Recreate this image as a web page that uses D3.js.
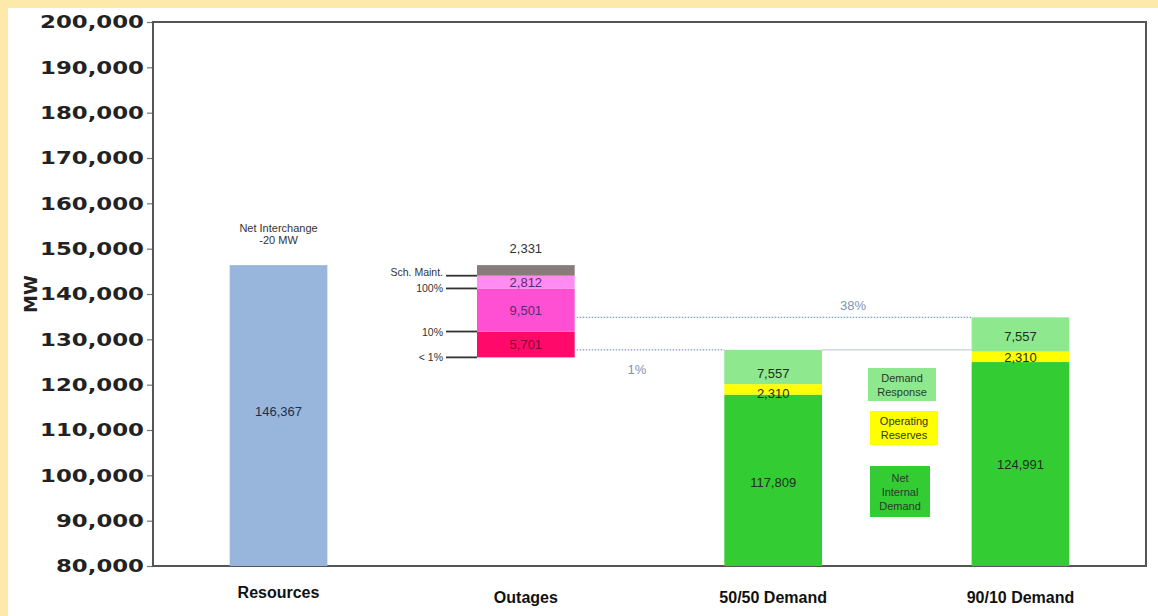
<!DOCTYPE html>
<html><head><meta charset="utf-8">
<script src="https://cdn.jsdelivr.net/npm/d3@7"></script>
<style>
html,body{margin:0;padding:0;background:#fff;}
svg{display:block;}
</style></head>
<body>
<script>
// ---- data ----
const categories = ["Resources", "Outages", "50/50 Demand", "90/10 Demand"];
const yTicks = [80000, 90000, 100000, 110000, 120000, 130000, 140000, 150000, 160000, 170000, 180000, 190000, 200000];
const resources = 146367;
const netInterchange = ["Net Interchange", "-20 MW"];
// outage segments from bottom to top (stacked downward from resources)
const outageValues = [5701, 9501, 2812, 2331];
const outageLabels = ["< 1%", "10%", "100%", "Sch. Maint."];
const demandSeries = ["Net Internal Demand", "Operating Reserves", "Demand Response"];
const demand5050 = [117809, 2310, 7557];
const demand9010 = [124991, 2310, 7557];
const pctLabels = ["38%", "1%"];

(function(){
const W = 1158, H = 616;
const svg = d3.select("body").append("svg").attr("width", W).attr("height", H);

// background frame
svg.append("rect").attr("x",0).attr("y",0).attr("width",W).attr("height",H).attr("fill","#fde9a9");
svg.append("rect").attr("x",8).attr("y",8).attr("width",W-8).attr("height",H-8).attr("fill","#ffffff");

const mL = 153, mR = 1146, mT = 22, mB = 566;
const y = d3.scaleLinear().domain([80000, 200000]).range([mB, mT]);
const x = d3.scaleBand().domain(categories).range([mL, mR]).paddingInner(0.605).paddingOuter(0.31);
const bw = x.bandwidth();
const yMin = y.domain()[0];

// y axis
const yAxis = d3.axisLeft(y).tickValues(yTicks).tickFormat(d3.format(",")).tickSize(6).tickSizeOuter(0);
const ga = svg.append("g").attr("transform", `translate(${mL},0)`).call(yAxis);
ga.select(".domain").remove();
ga.selectAll(".tick line").attr("stroke","#777").attr("stroke-width",1.2);
ga.selectAll(".tick text")
  .attr("font-family","DejaVu Sans").attr("font-weight","bold").attr("font-size",18)
  .attr("fill","#222").attr("x",-9)
  .attr("textLength", d => d >= 100000 ? 104 : 88).attr("lengthAdjust","spacingAndGlyphs");

// plot frame
svg.append("rect").attr("x",mL).attr("y",mT).attr("width",mR-mL).attr("height",mB-mT)
  .attr("fill","none").attr("stroke","#555").attr("stroke-width",2);

// MW label
svg.append("text").attr("transform","translate(37,294) rotate(-90)")
  .attr("text-anchor","middle").attr("font-family","DejaVu Sans").attr("font-weight","bold")
  .attr("font-size",18).attr("fill","#222").text("MW");

// category labels
svg.selectAll(".cat").data(categories).enter().append("text")
  .attr("x", d => x(d) + bw/2).attr("y", (d,i) => i === 0 ? 598 : 603)
  .attr("text-anchor","middle").attr("font-family","Liberation Sans").attr("font-weight","bold")
  .attr("font-size",16).attr("fill","#111").text(d => d);

const valFont = "Liberation Sans";
const fmt = d3.format(",");

// Resources bar
const xr = x("Resources");
svg.append("rect").attr("x", xr).attr("y", y(resources)).attr("width", bw)
  .attr("height", y(yMin) - y(resources)).attr("fill","#98b6dc");
svg.append("text").attr("x", xr + bw/2).attr("y", y(113000)).attr("text-anchor","middle")
  .attr("font-family",valFont).attr("font-size",13).attr("fill","#1e2f4a").text(fmt(resources));
svg.selectAll(".ni").data(netInterchange).enter().append("text")
  .attr("x", xr + bw/2).attr("y", (d,i) => 232 + i*12).attr("text-anchor","middle")
  .attr("font-family",valFont).attr("font-size",11).attr("fill","#333").text(d => d);

// Outages stacked
const xo = x("Outages");
const outageTotal = d3.sum(outageValues);
let base = resources - outageTotal;
const outageColors = ["#ff0a6a", "#ff4fd2", "#ff8cf2", "#877b7b"];
const outSegs = outageValues.map((v,i) => { const s = {v, y0: base, y1: base + v, i}; base += v; return s; });
svg.selectAll(".out").data(outSegs).enter().append("rect")
  .attr("x", xo).attr("y", d => y(d.y1)).attr("width", bw).attr("height", d => y(d.y0) - y(d.y1))
  .attr("fill", (d,i) => outageColors[i]);
outSegs.forEach((s,i) => {
  const ty = i === 3 ? y(s.y1) - 12 : (y(s.y0) + y(s.y1))/2 + 5;
  svg.append("text").attr("x", xo + bw/2).attr("y", ty).attr("text-anchor","middle")
    .attr("font-family",valFont).attr("font-size",13)
    .attr("fill", i === 3 ? "#333" : (i === 0 ? "#8a0030" : "#5a2a70")).text(fmt(s.v));
});
// left-side boundary labels with leader lines
outSegs.forEach((s,i) => {
  const ly = y(s.y0);
  svg.append("line").attr("x1", xo - 31).attr("x2", xo).attr("y1", ly).attr("y2", ly)
    .attr("stroke","#333").attr("stroke-width",1.8);
  svg.append("text").attr("x", xo - 34).attr("y", ly + (i===3 ? 0 : 4)).attr("text-anchor","end")
    .attr("font-family",valFont).attr("font-size",10.5).attr("fill","#333").text(outageLabels[i]);
});

// demand bars
const demandColors = ["#33cc33", "#ffff00", "#8ee88e"];
function drawDemand(cat, vals, labelYs) {
  const xd = x(cat);
  let b = 0;
  vals.forEach((v,i) => {
    const y0 = Math.max(b, yMin), y1 = b + v; b = y1;
    svg.append("rect").attr("x", xd).attr("y", y(y1)).attr("width", bw).attr("height", y(y0) - y(y1))
      .attr("fill", demandColors[i]);
    svg.append("text").attr("x", xd + bw/2).attr("y", labelYs[i]).attr("text-anchor","middle")
      .attr("font-family",valFont).attr("font-size",13).attr("fill","#1f2f1f").text(fmt(v));
  });
  return b;
}
const top5050 = drawDemand("50/50 Demand", demand5050, [487, 398, 378]);
const top9010 = drawDemand("90/10 Demand", demand9010, [469, 362, 341]);

// reference lines
svg.append("line").attr("x1", xo + bw + 2).attr("x2", x("90/10 Demand")).attr("y1", y(top9010)).attr("y2", y(top9010))
  .attr("stroke","#7f9cc0").attr("stroke-width",1.2).attr("stroke-dasharray","1.5,1.5");
svg.append("line").attr("x1", xo + bw + 2).attr("x2", x("50/50 Demand")).attr("y1", y(top5050)).attr("y2", y(top5050))
  .attr("stroke","#7f9cc0").attr("stroke-width",1.2).attr("stroke-dasharray","1.5,1.5");
svg.append("line").attr("x1", x("50/50 Demand") + bw).attr("x2", x("90/10 Demand")).attr("y1", y(top5050)).attr("y2", y(top5050))
  .attr("stroke","#b8c4d2").attr("stroke-width",1);
svg.append("text").attr("x", 853).attr("y", 310).attr("text-anchor","middle")
  .attr("font-family",valFont).attr("font-size",13).attr("fill","#7d93b5").text(pctLabels[0]);
svg.append("text").attr("x", 637).attr("y", 374).attr("text-anchor","middle")
  .attr("font-family",valFont).attr("font-size",13).attr("fill","#7d93b5").text(pctLabels[1]);

// legend boxes
const legendItems = [
  {lines:["Demand","Response"], color: demandColors[2], x:868, y:368, w:68, h:33},
  {lines:["Operating","Reserves"], color: demandColors[1], x:870, y:411, w:68, h:34},
  {lines:["Net","Internal","Demand"], color: demandColors[0], x:870, y:466, w:60, h:51}
];
legendItems.forEach(l => {
  svg.append("rect").attr("x", l.x).attr("y", l.y).attr("width", l.w).attr("height", l.h).attr("fill", l.color);
  const n = l.lines.length;
  l.lines.forEach((t,i) => {
    svg.append("text").attr("x", l.x + l.w/2).attr("y", l.y + l.h/2 + (i - (n-1)/2)*14 + 4)
      .attr("text-anchor","middle").attr("font-family",valFont).attr("font-size",11)
      .attr("fill","#2a3a2a").text(t);
  });
});
})();
</script>
</body></html>
